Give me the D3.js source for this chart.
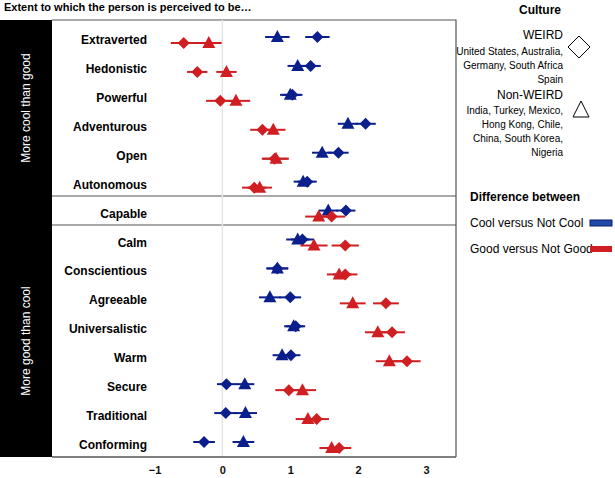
<!DOCTYPE html>
<html><head><meta charset="utf-8">
<script src="https://cdn.jsdelivr.net/npm/d3@7"></script>
<style>body{margin:0;background:#fff;font-family:"Liberation Sans",Arial,sans-serif}</style>
</head><body><svg id="chart" width="615" height="478"></svg>
<script>
const traits = ["Extraverted","Hedonistic","Powerful","Adventurous","Open","Autonomous","Capable",
  "Calm","Conscientious","Agreeable","Universalistic","Warm","Secure","Traditional","Conforming"];
// Cool versus Not Cool
const coolWeird    = [1.40,1.30,1.03,2.11,1.71,1.25,1.82,1.18,0.81,1.00,1.08,1.01,0.06,0.05,-0.27];
const coolNonWeird = [0.81,1.11,1.00,1.85,1.47,1.19,1.56,1.11,0.81,0.70,1.05,0.88,0.33,0.34,0.31];
// Good versus Not Good
const goodWeird    = [-0.57,-0.37,-0.03,0.59,0.77,0.47,1.61,1.81,1.81,2.41,2.50,2.72,0.98,1.39,1.72];
const goodNonWeird = [-0.20,0.06,0.20,0.75,0.79,0.55,1.42,1.35,1.72,1.92,2.29,2.46,1.18,1.26,1.61];
// approximate 95% CI half widths
const coolErr = [0.18,0.15,0.15,0.15,0.15,0.14,0.14,0.17,0.16,0.16,0.14,0.14,0.14,0.17,0.16];
const goodErr = [0.19,0.15,0.21,0.18,0.19,0.18,0.2,0.2,0.18,0.19,0.19,0.2,0.2,0.18,0.18];
const xTicks = [-1,0,1,2,3];

const svg = d3.select("#chart");
const mLeft = 52, mRight = 456, mTop = 20, mBottom = 457;
const x = d3.scaleLinear().domain([-1,3]).range([154.5,426]);
const y = d3.scalePoint().domain(traits).range([40,445]);

svg.append("text").attr("x",4).attr("y",11).attr("font-size",11).attr("font-weight","bold")
  .text("Extent to which the person is perceived to be…");

// left black strip
svg.append("rect").attr("x",0).attr("y",mTop).attr("width",mLeft).attr("height",mBottom-mTop).attr("fill","#000");
svg.append("text").attr("transform",`translate(30,${(mTop+196)/2}) rotate(-90)`).attr("text-anchor","middle")
  .attr("fill","#fff").attr("font-size",12).text("More cool  than good");
svg.append("text").attr("transform",`translate(30,${(225+mBottom)/2}) rotate(-90)`).attr("text-anchor","middle")
  .attr("fill","#fff").attr("font-size",12).text("More good than cool");

// frame
const fr = svg.append("g").attr("stroke","#555").attr("fill","none");
fr.append("path").attr("d",`M${mLeft},${mTop}H${mRight}V${mBottom}`).attr("stroke-width",1.2);
[196,225].forEach(v=>fr.append("line").attr("x1",mLeft).attr("x2",mRight).attr("y1",v).attr("y2",v));

svg.append("line").attr("x1",x(0)).attr("x2",x(0)).attr("y1",mTop).attr("y2",mBottom)
  .attr("stroke","#e4e4e4").attr("stroke-width",1.5);

// axis
const ax = svg.append("g").attr("transform",`translate(0,${mBottom})`)
  .call(d3.axisBottom(x).tickValues(xTicks).tickSize(0).tickPadding(9).tickFormat(d=>d<0?"\u2212"+(-d):d));
ax.select(".domain").attr("d",`M${mLeft},0H${mRight}`).attr("stroke","#555").attr("stroke-width",1.5);
ax.selectAll("text").attr("font-size",11).attr("font-weight","bold").attr("fill","#111");

// labels
svg.append("g").selectAll("text").data(traits).join("text")
  .attr("x",147).attr("y",d=>y(d)+4).attr("text-anchor","end")
  .attr("font-size",12).attr("font-weight","bold").text(d=>d);

const blue = "#0b1f8c", red = "#d01f23";
const series = [
  {vals:coolWeird, err:coolErr, color:blue, shape:"d", dy:-3},
  {vals:coolNonWeird, err:coolErr, color:blue, shape:"t", dy:-3},
  {vals:goodWeird, err:goodErr, color:red, shape:"d", dy:3},
  {vals:goodNonWeird, err:goodErr, color:red, shape:"t", dy:3}
];
const diamond = "M0,-6L6,0L0,6L-6,0Z", tri = "M0,-7L6.5,5L-6.5,5Z";
series.forEach(s=>{
  const g = svg.append("g");
  g.selectAll("line").data(traits).join("line")
    .attr("x1",(d,i)=>x(s.vals[i]-s.err[i])).attr("x2",(d,i)=>x(s.vals[i]+s.err[i]))
    .attr("y1",d=>y(d)+s.dy).attr("y2",d=>y(d)+s.dy).attr("stroke",s.color).attr("stroke-width",2);
  g.selectAll("path").data(traits).join("path")
    .attr("d",s.shape==="d"?diamond:tri).attr("fill",s.color)
    .attr("transform",(d,i)=>`translate(${x(s.vals[i])},${y(d)+s.dy})`);
});

// legend
const lg = svg.append("g").attr("font-size",12);
lg.append("text").attr("x",561).attr("y",14).attr("text-anchor","end").attr("font-weight","bold").text("Culture");
lg.append("text").attr("x",563).attr("y",39).attr("text-anchor","end").text("WEIRD");
["United States, Australia,","Germany, South Africa","Spain"].forEach((t,i)=>
  lg.append("text").attr("x",563).attr("y",55+i*14).attr("text-anchor","end").attr("font-size",10).text(t));
lg.append("path").attr("d","M0,-11L11,0L0,11L-11,0Z").attr("transform","translate(579,47)").attr("fill","none").attr("stroke","#000");
lg.append("text").attr("x",563).attr("y",99).attr("text-anchor","end").text("Non-WEIRD");
["India, Turkey, Mexico,","Hong Kong, Chile,","China, South Korea,","Nigeria"].forEach((t,i)=>
  lg.append("text").attr("x",563).attr("y",114+i*14).attr("text-anchor","end").attr("font-size",10).text(t));
lg.append("path").attr("d","M0,-9L8,7L-8,7Z").attr("transform","translate(581,110)").attr("fill","none").attr("stroke","#000");
lg.append("text").attr("x",470).attr("y",201).attr("font-weight","bold").text("Difference between");
lg.append("text").attr("x",470).attr("y",227).text("Cool versus Not Cool");
lg.append("rect").attr("x",590).attr("y",220).attr("width",22).attr("height",6).attr("fill","#1f4aa8").attr("stroke","#0b1f6c");
lg.append("text").attr("x",470).attr("y",253).text("Good versus Not Good");
lg.append("rect").attr("x",590).attr("y",246).attr("width",22).attr("height",6).attr("fill",red);
</script></body></html>
